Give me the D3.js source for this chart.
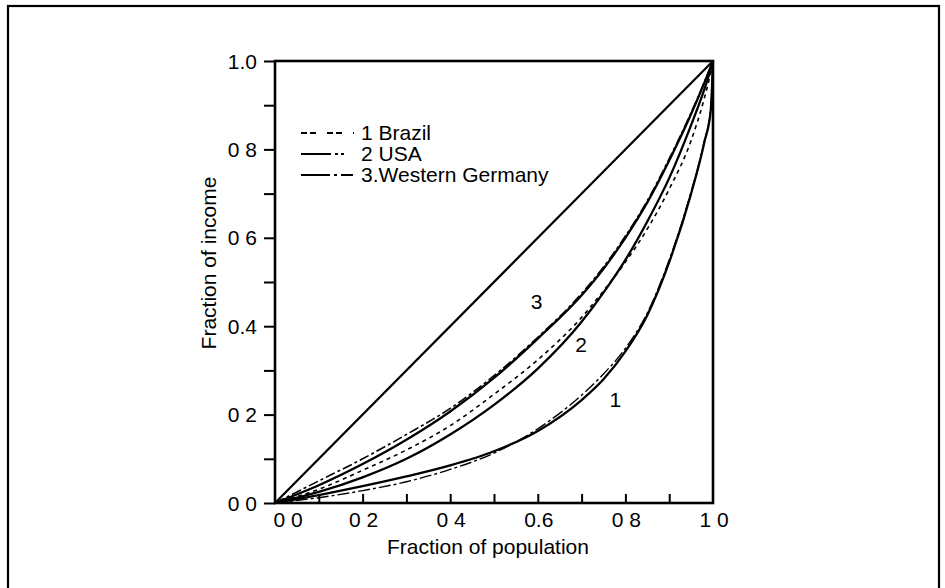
<!DOCTYPE html>
<html lang="en">

<head>
    <meta charset="UTF-8">
    <title>Lorenz curves</title>
    <script src="https://cdn.jsdelivr.net/npm/d3@7/dist/d3.min.js"></script>
    <style type="text/css">
        html,
        body {
            margin: 0;
            padding: 0;
            background: white;
        }

        svg text {
            font-family: "Liberation Sans", Arial, sans-serif;
            font-size: 21px;
            fill: black;
        }

        .curve {
            fill: none;
            stroke: black;
        }

        .axis line,
        .axis path {
            stroke: black;
        }
    </style>
</head>

<body>
    <svg id="chart" width="945" height="588"></svg>
</body>
<script>
    // population share -> income share
    var popShare = [0, 0.1, 0.2, 0.3, 0.4, 0.5, 0.6, 0.7, 0.75, 0.8, 0.85, 0.9, 0.95, 0.98, 0.995, 1];

    var brazilModel = [0, 0.018, 0.038, 0.06, 0.085, 0.117, 0.163, 0.233, 0.28, 0.343, 0.425, 0.545, 0.7, 0.815, 0.89, 1];
    var brazilData  = [0, 0.012, 0.028, 0.048, 0.076, 0.113, 0.168, 0.244, 0.292, 0.35, 0.43, 0.55, 0.704, 0.818, 0.893, 1];

    var usaModel = [0, 0.025, 0.058, 0.1, 0.155, 0.222, 0.304, 0.41, 0.476, 0.55, 0.637, 0.735, 0.855, 0.935, 0.982, 1];
    var usaData  = [0, 0.031, 0.074, 0.12, 0.175, 0.246, 0.324, 0.42, 0.48, 0.545, 0.62, 0.71, 0.82, 0.915, 0.975, 1];

    var germanyModel = [0, 0.04, 0.088, 0.143, 0.207, 0.283, 0.372, 0.47, 0.53, 0.6, 0.68, 0.775, 0.88, 0.95, 0.987, 1];
    var germanyData  = [0, 0.05, 0.1, 0.155, 0.214, 0.288, 0.375, 0.474, 0.534, 0.604, 0.684, 0.779, 0.883, 0.952, 0.988, 1];

    var equality = [0, 1];

    var xTicks = [0, 0.2, 0.4, 0.6, 0.8, 1.0];
    var xTickLabels = ["0 0", "0 2", "0 4", "0.6", "0 8", "1 0"];
    var yTicks = [0, 0.2, 0.4, 0.6, 0.8, 1.0];
    var yTickLabels = ["0 0", "0 2", "0.4", "0 6", "0 8", "1.0"];
    var minorTicks = [0.1, 0.2, 0.3, 0.4, 0.5, 0.6, 0.7, 0.8, 0.9];

    var legendNames = ["1 Brazil", "2 USA", "3.Western Germany"];
    var legendDash = ["6,3,6,11", "30,4,3,3,3,10", "29,4,3,4,12"];

    var curveLabels = ["1", "2", "3"];
    var curveLabelX = [0.777, 0.699, 0.597];
    var curveLabelY = [0.218, 0.342, 0.44];

    var svg = d3.select("#chart");

    // outer frame (bottom edge runs off the page)
    svg.append("rect")
        .attr("x", 8)
        .attr("y", 6)
        .attr("width", 931)
        .attr("height", 600)
        .attr("fill", "none")
        .attr("stroke", "black")
        .attr("stroke-width", 2.2);

    var x = d3.scaleLinear().domain([0, 1]).range([275, 713]),
        y = d3.scaleLinear().domain([0, 1]).range([503, 61]);

    var g = svg.append("g");

    // plot box
    g.append("rect")
        .attr("x", x(0))
        .attr("y", y(1))
        .attr("width", x(1) - x(0))
        .attr("height", y(0) - y(1))
        .attr("fill", "none")
        .attr("stroke", "black")
        .attr("stroke-width", 2.6);

    // y axis: ticks outward every 0.1, labels every 0.2
    var yAxis = g.append("g")
        .attr("class", "axis")
        .attr("transform", "translate(" + x(0) + ",0)")
        .call(d3.axisLeft(y).tickValues(d3.range(0, 11).map(d => d / 10)).tickSize(11).tickFormat(""));
    yAxis.select("path.domain").remove();
    yAxis.selectAll("line").attr("stroke-width", 2);

    g.selectAll(".ylab")
        .data(yTicks)
        .enter().append("text")
        .attr("class", "ylab")
        .attr("x", x(0) - 18)
        .attr("y", d => y(d))
        .attr("dy", "0.36em")
        .attr("text-anchor", "end")
        .text((d, i) => yTickLabels[i]);

    // x axis: ticks point into the plot
    var xAxis = g.append("g")
        .attr("class", "axis")
        .attr("transform", "translate(0," + y(0) + ")")
        .call(d3.axisTop(x).tickValues(minorTicks).tickSize(9).tickFormat(""));
    xAxis.select("path.domain").remove();
    xAxis.selectAll("line").attr("stroke-width", 2);

    g.selectAll(".xlab")
        .data(xTicks)
        .enter().append("text")
        .attr("class", "xlab")
        .attr("x", (d, i) => x(d) + (i == 0 ? 13 : 1))
        .attr("y", y(0) + 24)
        .attr("text-anchor", "middle")
        .text((d, i) => xTickLabels[i]);

    // axis titles
    svg.append("text")
        .attr("x", 488)
        .attr("y", 554)
        .attr("text-anchor", "middle")
        .text("Fraction of population");

    svg.append("text")
        .attr("transform", "translate(216,263) rotate(-90)")
        .attr("text-anchor", "middle")
        .text("Fraction of income");

    // curves
    var line = d3.line()
        .x(d => x(d[0]))
        .y(d => y(d[1]))
        .curve(d3.curveMonotoneX);

    function series(vals) {
        return popShare.map((p, i) => [p, vals[i]]);
    }

    var curves = [
        { pts: equality.map(p => [p, p]), dash: null, w: 2.2 },
        { pts: series(brazilModel), dash: null, w: 2.3 },
        { pts: series(brazilData), dash: "12,3,3,3", w: 1.4 },
        { pts: series(usaModel), dash: null, w: 2.3 },
        { pts: series(usaData), dash: "4,4", w: 1.6 },
        { pts: series(germanyModel), dash: null, w: 2.3 },
        { pts: series(germanyData), dash: "10,3,3,3", w: 1.6 }
    ];

    g.selectAll(".curve")
        .data(curves)
        .enter().append("path")
        .attr("class", "curve")
        .attr("d", d => line(d.pts))
        .attr("stroke-width", d => d.w)
        .attr("stroke-dasharray", d => d.dash);

    // curve numbers
    g.selectAll(".clab")
        .data(curveLabels)
        .enter().append("text")
        .attr("class", "clab")
        .attr("x", (d, i) => x(curveLabelX[i]))
        .attr("y", (d, i) => y(curveLabelY[i]))
        .attr("text-anchor", "middle")
        .text(d => d);

    // legend
    var legend = g.selectAll(".legend")
        .data(legendNames)
        .enter().append("g")
        .attr("class", "legend")
        .attr("transform", (d, i) => "translate(301," + (140 + i * 21) + ")");

    legend.append("line")
        .attr("x1", 0)
        .attr("x2", 53)
        .attr("y1", -7)
        .attr("y2", -7)
        .attr("stroke", "black")
        .attr("stroke-width", 1.8)
        .attr("stroke-dasharray", (d, i) => legendDash[i]);

    legend.append("text")
        .attr("x", 60)
        .attr("y", 0)
        .text(d => d);
</script>

</html>
